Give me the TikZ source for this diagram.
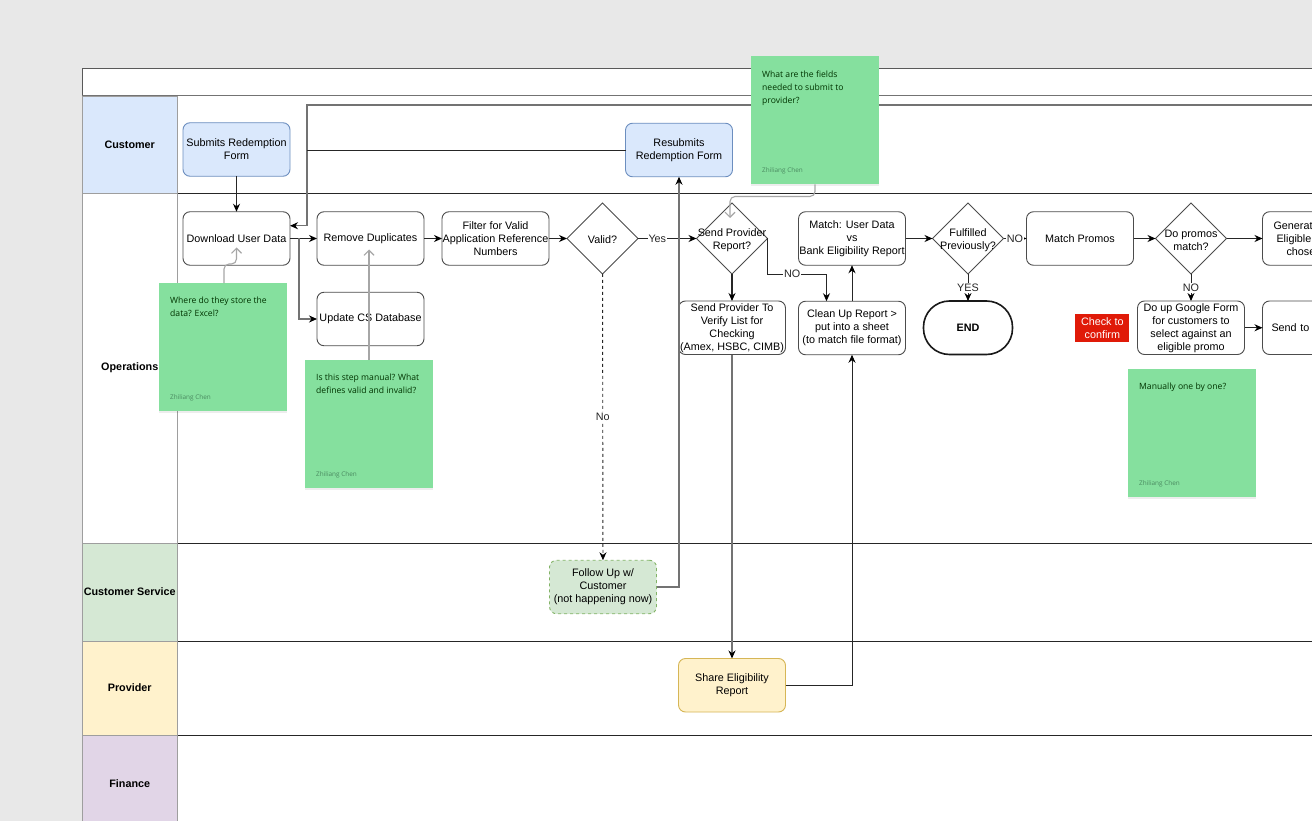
\documentclass[tikz,border=0pt]{standalone}
\usepackage{fontspec}
\setmainfont{Liberation Sans}
\newfontfamily\notefont{Open Sans}
\usepackage{xcolor}
\usetikzlibrary{arrows.meta, positioning, shapes.geometric, calc, shadows}

\definecolor{pagegray}{HTML}{E8E8E8}
\definecolor{bluefill}{HTML}{DAE8FC}
\definecolor{bluedraw}{HTML}{6C8EBF}
\definecolor{greenfill}{HTML}{D5E8D4}
\definecolor{greendraw}{HTML}{82B366}
\definecolor{yellowfill}{HTML}{FFF2CC}
\definecolor{yellowdraw}{HTML}{D6B656}
\definecolor{purplefill}{HTML}{E1D5E7}
\definecolor{stickygreen}{HTML}{85E09E}
\definecolor{authorgreen}{HTML}{4A8A60}
\definecolor{checkred}{HTML}{E01A08}

\begin{document}
\begin{tikzpicture}[
      x=1pt, y=-1pt,
      box/.style={rectangle, rounded corners=7pt, draw=black!70, line width=.9pt, outer sep=0pt, inner sep=0pt,
                  minimum width=107pt, minimum height=53.5pt, align=center, font=\fontsize{10.8}{13}\selectfont},
      decision/.style={diamond, draw=black!70, line width=.9pt, outer sep=0pt, inner sep=0pt, minimum size=71pt},
      dectext/.style={align=center, inner sep=0pt, yshift=-1.5pt, font=\fontsize{10.8}{13}\selectfont},
      lanehead/.style={rectangle, draw=black!38, line width=.8pt, outer sep=0pt, inner sep=0pt,
                  minimum width=95.5pt, anchor=north west, font=\fontsize{10.8}{13}\selectfont\bfseries},
      laneline/.style={black!85, line width=.8pt},
      arrow/.style={-{Stealth[length=8pt, width=7pt, black]}, black!85, line width=.9pt},
      heavyarrow/.style={-{Stealth[length=8pt, width=7pt, black]}, black!55, line width=1.1pt},
      edgelabel/.style={fill=white, inner sep=1pt, font=\fontsize{10.8}{13}\selectfont},
      sticky/.style={rectangle, fill=stickygreen, minimum size=128pt, inner sep=0pt, outer sep=0pt,
                  drop shadow={shadow xshift=0pt, shadow yshift=-2pt, opacity=.07, fill=black}},
      notetext/.style={anchor=north west, inner sep=0pt, align=left, text=black!80!green,
                  font=\notefont\fontsize{8.6}{13}\selectfont},
      noteauthor/.style={anchor=south west, inner sep=0pt, text=authorgreen, font=\notefont\fontsize{6.4}{8}\selectfont},
      comment/.style={-{Straight Barb[length=5pt, width=10pt]}, black!35, line width=1.1pt, rounded corners=5pt}
    ]
    \useasboundingbox[fill=pagegray] (0,0) rectangle (1312,821);

    % swimlanes
    \node[rectangle, draw=black!65, fill=white, line width=1pt, outer sep=0pt, minimum width=1300pt, minimum height=27pt, anchor=north west] (title) at (82,69) {};
    \fill[white] (82,96) rectangle (1312,821);
    \coordinate (rightedge) at (1312,0);
    \draw[black!55, line width=1pt] (title.south west) -- (title.south west -| rightedge);
    \node[lanehead, fill=bluefill, minimum height=97pt] (customer) at (title.south west) {Customer};
    \node[lanehead, minimum height=350pt] (operations) at (customer.south west) {Operations};
    \node[lanehead, fill=greenfill, minimum height=98pt] (service) at (operations.south west) {Customer Service};
    \node[lanehead, fill=yellowfill, minimum height=94pt] (provider) at (service.south west) {Provider};
    \node[lanehead, fill=purplefill, minimum height=97pt] (finance) at (provider.south west) {Finance};
    \draw[laneline] (customer.south east) -- (customer.south east -| rightedge);
    \draw[laneline] (operations.south east) -- (operations.south east -| rightedge);
    \draw[laneline] (service.south east) -- (service.south east -| rightedge);
    \draw[laneline] (provider.south east) -- (provider.south east -| rightedge);

    % steps
    \node[box, fill=bluefill, draw=bluedraw] (submit) at (236.5,149.5) {Submits Redemption\\Form};
    \node[box, fill=bluefill, draw=bluedraw] (resubmit) at (679,150) {Resubmits\\Redemption Form};
    \node[box, below=35.5pt of submit] (download) {Download User Data};
    \node[box, right=27pt of download] (remove) {Remove Duplicates};
    \node[box, right=18pt of remove] (filter) {Filter for Valid\\Application Reference\\Numbers};
    \node[decision, right=18pt of filter, label={[dectext]center:Valid?}] (valid) {};
    \node[decision, right=58.5pt of valid, label={[dectext]center:{Send Provider\\Report?}}] (sendreport) {};
    \node[box, right=31pt of sendreport] (match) {Match: User Data\\vs\\Bank Eligibility Report};
    \node[decision, right=27pt of match, label={[dectext]center:{Fulfilled\\Previously?}}] (fulfilled) {};
    \node[box, right=23pt of fulfilled] (promos) {Match Promos};
    \node[decision, right=22pt of promos, label={[dectext]center:{Do promos\\match?}}] (domatch) {};
    \node[box, right=36pt of domatch, text width=85pt, align=left] (generate) {Generate\\\hspace*{3pt}Eligible\\\hspace*{13pt}chosen};
    \node[box, below=27pt of remove] (update) {Update CS Database};
    \node[box, below=27pt of sendreport] (verify) {Send Provider To\\Verify List for\\Checking\\(Amex, HSBC, CIMB)};
    \node[box, below=36pt of match] (cleanup) {Clean Up Report >\\put into a sheet\\(to match file format)};
    \node[box, below=27pt of fulfilled, minimum width=89pt, rounded corners=26pt, line width=1.6pt, draw=black!90, font=\fontsize{10.8}{13}\selectfont\bfseries] (finish) {END};
    \node[box, below=27pt of domatch] (googleform) {Do up Google Form\\for customers to\\select against an\\eligible promo};
    \node[box, right=18pt of googleform, text width=89pt, align=left] (sendto) {Send to c};
    \node[rectangle, fill=checkred, text=white, left=8pt of googleform, minimum width=54pt, minimum height=28pt, inner sep=0pt, align=center, font=\fontsize{10.8}{13}\selectfont] (check) {Check to\\confirm};
    \node[box, fill=greenfill, draw=greendraw, dashed] (followup) at (603,587) {Follow Up w/\\Customer\\(not happening now)};
    \node[box, fill=yellowfill, draw=yellowdraw, below=304pt of verify] (share) {Share Eligibility\\Report};

    % connectors
    \coordinate (returnin) at (1312,105);
    \coordinate (returnbend) at (307,105);
    \coordinate (downloadin) at ($(download.north east)+(0,14)$);
    \coordinate (branch) at ($(download.east)+(9,0)$);
    \draw[arrow] (submit) -- (download);
    \draw[heavyarrow] (returnin) -- (returnbend) |- (downloadin);
    \draw[black!85, line width=.9pt] (resubmit.west) -- (resubmit.west -| returnbend);
    \draw[arrow] (download) -- (remove);
    \draw[heavyarrow] (branch) |- (update.west);
    \draw[arrow] (remove) -- (filter);
    \draw[arrow] (filter) -- (valid);
    \draw[arrow] (valid) -- node[edgelabel, pos=.33]{Yes} (sendreport);
    \draw[arrow, dashed] (valid) -- node[edgelabel, pos=.5]{No} (followup);
    \draw[heavyarrow] (followup.east) -| (resubmit.south);
    \draw[arrow, line width=1.1pt] (sendreport) -- (verify);
    \draw[heavyarrow, line width=1.3pt] (verify) -- (share);
    \coordinate (nobend) at (sendreport.east |- sendreport.south);
    \coordinate (cleanin) at ($(cleanup.north west)+(28,0)$);
    \draw[arrow] (sendreport.east) -- (nobend) -- node[edgelabel, pos=.42]{NO} (nobend -| cleanin) -- (cleanin);
    \draw[arrow] (cleanup) -- (match);
    \draw[arrow] (share.east) -| (cleanup.south);
    \draw[arrow] (match) -- (fulfilled);
    \draw[arrow] (fulfilled) -- node[edgelabel, pos=.5]{NO} (promos);
    \draw[arrow] (fulfilled) -- node[edgelabel, pos=.52]{YES} (finish);
    \draw[arrow] (promos) -- (domatch);
    \draw[arrow] (domatch) -- (generate);
    \draw[arrow] (domatch) -- node[edgelabel, pos=.52]{NO} (googleform);
    \draw[arrow] (googleform) -- (sendto);

    % comments
    \node[sticky] (note1) at (223,347) {};
    \node[notetext, below right=14pt and 11pt of note1.north west] (note1text) {Where do they store the\\data? Excel?};
    \node[noteauthor, above right=10pt and 11pt of note1.south west] (note1author) {Zhiliang Chen};
    \node[sticky] (note2) at (369,424) {};
    \node[notetext, below right=14pt and 11pt of note2.north west] (note2text) {Is this step manual? What\\defines valid and invalid?};
    \node[noteauthor, above right=10pt and 11pt of note2.south west] (note2author) {Zhiliang Chen};
    \node[sticky] (note3) at (815,120.5) {};
    \node[notetext, below right=14pt and 11pt of note3.north west] (note3text) {What are the fields\\needed to submit to\\provider?};
    \node[noteauthor, above right=10pt and 11pt of note3.south west] (note3author) {Zhiliang Chen};
    \node[sticky] (note4) at (1192,433) {};
    \node[notetext, below right=14pt and 11pt of note4.north west] (note4text) {Manually one by one?};
    \node[noteauthor, above right=10pt and 11pt of note4.south west] (note4author) {Zhiliang Chen};

    \coordinate (tipA) at ($(download.center)+(0,9)$);
    \coordinate (tipB) at ($(remove.center)+(-1.5,11)$);
    \coordinate (tipC) at ($(sendreport.north)+(-2,15)$);
    \draw[comment] ($(note1.north)+(1,0)$) -- ++(0,-19) -| (tipA);
    \draw[comment] (note2.north) -- (tipB);
    \draw[comment] (note3.south) -- ++(0,12) -| (tipC);
\end{tikzpicture}
\end{document}
